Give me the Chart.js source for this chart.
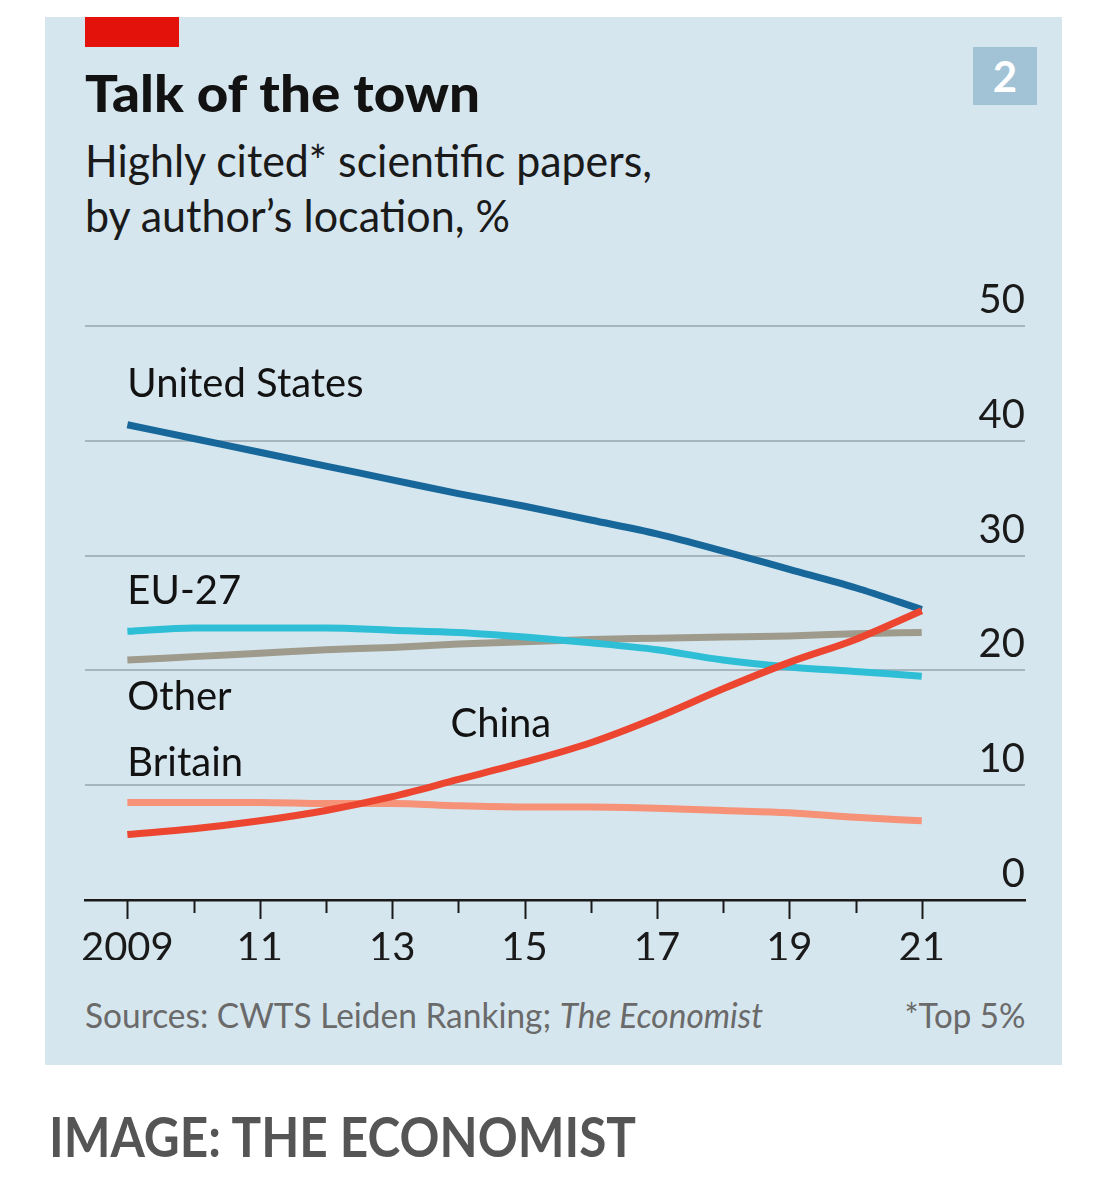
<!DOCTYPE html>
<html>
<head>
<meta charset="utf-8">
<script src="https://cdn.jsdelivr.net/npm/chart.js@4.4.0/dist/chart.umd.min.js"></script>
<style>
  body { margin: 0; width: 1103px; height: 1200px; background: #fff; position: relative; overflow: hidden; font-family: Lato, "Noto Sans", sans-serif; }
  #panel { position: absolute; left: 45px; top: 17px; width: 1017px; height: 1048px; background: #d6e6ef; }
  #redbar { position: absolute; left: 85px; top: 17px; width: 94px; height: 30px; background: #e3120b; }
  #badge { position: absolute; left: 973px; top: 47px; width: 64px; height: 58px; background: #a2c3d6; color: #fff; font-weight: 700; font-size: 42px; line-height: 58px; text-align: center; }
  .txt { position: absolute; white-space: nowrap; line-height: 1; transform-origin: 0 0; }
  #title { left: 85px; top: 66px; font-size: 52px; font-weight: 900; color: #121212; }
  #sub1 { left: 85px; top: 138px; font-size: 44px; color: #1a1a1a; }
  #sub2 { left: 85px; top: 193px; font-size: 44px; color: #1a1a1a; }
  #source { left: 85px; top: 998px; font-size: 34px; color: #6a6a6a; }
  #foot { right: 78px; top: 998px; font-size: 34px; color: #6a6a6a; transform-origin: 100% 0; }
  #credit { left: 49px; top: 1108px; font-size: 56px; font-weight: 700; color: #555; }
  #chart { position: absolute; left: 0; top: 0; }
</style>
</head>
<body>
<div id="panel"></div>
<div id="redbar"></div>
<div id="badge">2</div>
<div class="txt" id="title">Talk of the town</div>
<div class="txt" id="sub1">Highly cited* scientific papers,</div>
<div class="txt" id="sub2">by author’s location, %</div>
<div class="txt" id="source">Sources: CWTS Leiden Ranking; <i>The Economist</i></div>
<div class="txt" id="foot">*Top 5%</div>
<div class="txt" id="credit">IMAGE: THE ECONOMIST</div>
<canvas id="chart" width="1103" height="1200"></canvas>

<script>
// =====================
// Data
// =====================
const years = [2009, 2010, 2011, 2012, 2013, 2014, 2015, 2016, 2017, 2018, 2019, 2020, 2021];
const xTickLabels = ["2009", "", "11", "", "13", "", "15", "", "17", "", "19", "", "21"];
const yTicks = [0, 10, 20, 30, 40, 50];

const china = [5.7, 6.2, 6.9, 7.8, 9.0, 10.5, 12.0, 13.7, 15.9, 18.4, 20.7, 22.7, 25.2];
const unitedStates = [41.4, 40.2, 39.0, 37.8, 36.6, 35.4, 34.3, 33.1, 31.9, 30.4, 28.8, 27.2, 25.3];
const eu27 = [23.4, 23.7, 23.7, 23.7, 23.5, 23.3, 22.9, 22.4, 21.8, 20.9, 20.3, 19.9, 19.5];
const britain = [8.5, 8.5, 8.5, 8.4, 8.4, 8.2, 8.1, 8.1, 8.0, 7.8, 7.6, 7.2, 6.9];
const other = [20.9, 21.2, 21.5, 21.8, 22.0, 22.3, 22.5, 22.7, 22.8, 22.9, 23.0, 23.2, 23.3];

// =====================
// Text fitting (Economist font is narrower than what we have)
// =====================
function fitWidth(id, w) {
    const el = document.getElementById(id);
    const cur = el.getBoundingClientRect().width;
    el.style.transform = `scaleX(${w / cur})`;
}
fitWidth("title", 395);
fitWidth("sub1", 567);
fitWidth("sub2", 425);
fitWidth("source", 678);
fitWidth("foot", 121);
fitWidth("credit", 587);

// =====================
// Plugins
// =====================
const FONT = "Lato, 'Noto Sans', sans-serif";

// minor/major tick marks under the axis
const tickMarks = {
    id: "tickMarks",
    afterDraw(chart) {
        const ctx = chart.ctx;
        const x = chart.scales.x;
        const base = chart.chartArea.bottom;
        ctx.save();
        ctx.strokeStyle = "#1a1a1a";
        ctx.lineWidth = 2;
        years.forEach((yr, i) => {
            const px = Math.round(x.getPixelForValue(yr)) + 0.5;
            ctx.beginPath();
            ctx.moveTo(px, base);
            ctx.lineTo(px, base + (xTickLabels[i] ? 19 : 13));
            ctx.stroke();
        });
        ctx.restore();
    }
};

// direct labels on the lines
const seriesLabels = [
    { text: "United States", x: 2009, y: 44.9 },
    { text: "EU-27", x: 2009, y: 26.9 },
    { text: "Other", x: 2009, y: 17.7 },
    { text: "Britain", x: 2009, y: 11.9 },
    { text: "China", x: 2013.88, y: 15.3 }
];
const lineLabels = {
    id: "lineLabels",
    afterDatasetsDraw(chart) {
        const ctx = chart.ctx;
        ctx.save();
        ctx.font = `40px ${FONT}`;
        ctx.fillStyle = "#121212";
        ctx.textAlign = "left";
        ctx.textBaseline = "middle";
        seriesLabels.forEach(l => {
            ctx.fillText(l.text, chart.scales.x.getPixelForValue(l.x), chart.scales.y.getPixelForValue(l.y));
        });
        ctx.restore();
    }
};

// =====================
// Chart
// =====================
function line(label, data, color) {
    return {
        label,
        data: data.map((v, i) => ({ x: years[i], y: v })),
        borderColor: color,
        borderWidth: 7,
        pointRadius: 0,
        cubicInterpolationMode: "monotone",
        fill: false
    };
}

new Chart(document.getElementById("chart"), {
    type: "line",
    data: {
        datasets: [
            line("China", china, "#ec4631"),
            line("United States", unitedStates, "#17679a"),
            line("EU-27", eu27, "#2ebfd6"),
            line("Britain", britain, "#f59277"),
            line("Other", other, "#9e9b8d")
        ]
    },
    options: {
        responsive: false,
        animation: false,
        layout: { padding: { left: 85, right: 78, top: 326, bottom: 240 } },
        plugins: { legend: { display: false }, tooltip: { enabled: false } },
        scales: {
            x: {
                type: "linear",
                min: 2008.36,
                max: 2022.56,
                afterBuildTicks: s => { s.ticks = years.map(v => ({ value: v })); },
                afterFit: s => { s.height = 60; },
                grid: { display: false, drawTicks: false },
                border: { display: true, color: "#1a1a1a", width: 2.5 },
                ticks: {
                    autoSkip: false,
                    maxRotation: 0,
                    padding: 24,
                    color: "#1a1a1a",
                    font: { family: FONT, size: 40 },
                    callback: (v, i) => xTickLabels[i]
                }
            },
            y: {
                position: "right",
                min: 0,
                max: 50,
                afterBuildTicks: s => { s.ticks = yTicks.map(v => ({ value: v })); },
                afterFit: s => { s.width = 0; },
                grid: { color: c => (c.tick.value === 0 ? "rgba(0,0,0,0)" : "#a6b5be"), lineWidth: 2, drawTicks: false },
                border: { display: false },
                ticks: {
                    mirror: true,
                    padding: 0,
                    labelOffset: -26,
                    color: "#1a1a1a",
                    font: { family: FONT, size: 40 }
                }
            }
        }
    },
    plugins: [tickMarks, lineLabels]
});
</script>
</body>
</html>
